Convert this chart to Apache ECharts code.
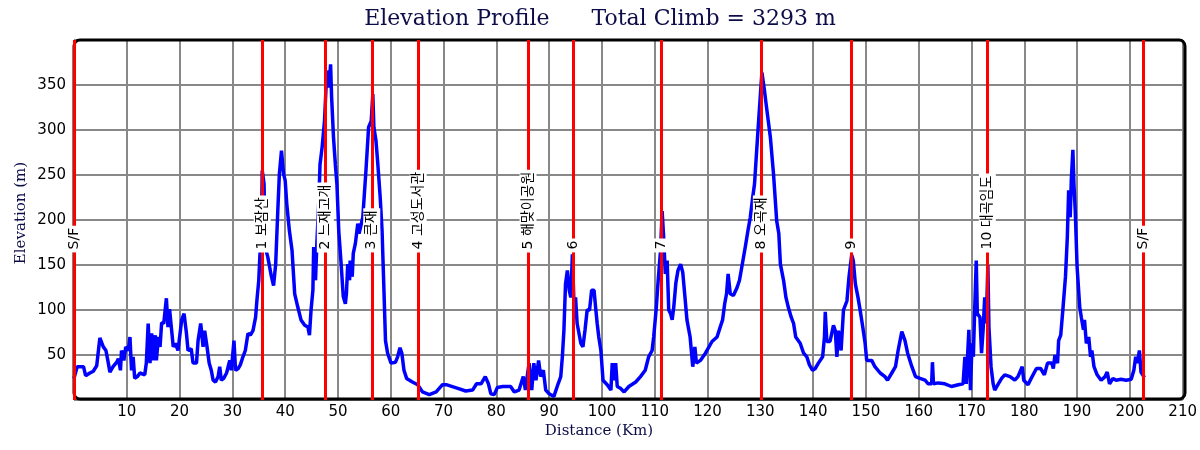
<!DOCTYPE html>
<html>
<head>
<meta charset="utf-8">
<title>Elevation Profile</title>
<script src="https://cdn.jsdelivr.net/npm/echarts@6/dist/echarts.min.js"></script>
<style>
  html, body { margin: 0; padding: 0; background: #fff; }
  #chart { width: 1200px; height: 450px; }
</style>
</head>
<body>
<div id="chart"></div>
<script>
// route profile: distance (km) / elevation (m)
const distKm = [
  0, 0.2, 0.6, 1.8, 2.2, 3.0, 3.65, 4.3, 4.9, 5.55, 6.05, 6.5, 6.8, 7.4, 8.1, 8.4, 8.8, 9.0, 9.45, 9.8,
  10.3, 10.6, 10.9, 11.2, 11.5, 12.0, 12.5, 13.4, 13.7, 14.05, 14.4, 14.7, 15.1, 15.4, 15.6, 16.0, 16.3, 16.6, 17.0, 17.5,
  17.8, 18.1, 18.5, 18.8, 19.2, 19.7, 20.4, 20.85, 21.3, 21.6, 22.2, 22.55, 23.2, 23.5, 24.0, 24.45, 24.75, 25.2, 25.6, 26.0,
  26.35, 26.8, 27.3, 27.6, 27.9, 28.35, 28.9, 29.2, 29.5, 29.8, 30.3, 30.6, 31.1, 31.5, 32.0, 32.45, 32.95, 33.4, 33.9, 34.4,
  34.65, 35.0, 35.2, 35.5, 35.65, 36.0, 36.2, 36.7, 37.4, 37.8, 38.2, 38.6, 38.9, 39.3, 39.7, 40.0, 40.3, 40.8, 41.3, 41.8,
  42.4, 43.0, 43.7, 44.3, 44.6, 44.9, 45.25, 45.4, 45.75, 46.0, 46.4, 46.6, 47.0, 47.45, 47.8, 48.1, 48.3, 48.6, 48.8, 49.15,
  49.5, 49.8, 50.15, 50.6, 51.0, 51.4, 51.6, 51.85, 52.2, 52.3, 52.7, 52.9, 53.3, 53.75, 54.0, 54.7, 55.3, 55.8, 56.3, 56.6,
  56.8, 57.2, 57.5, 58.0, 58.35, 58.65, 59.0, 59.4, 60.05, 60.9, 61.3, 61.75, 62.1, 62.5, 63.0, 64.1, 65.1, 66.0, 67.3, 68.6,
  69.8, 70.5, 72.7, 74.2, 75.5, 76.25, 77.1, 77.9, 78.5, 78.95, 79.6, 80.2, 81.2, 82.7, 83.4, 84.3, 85.1, 85.5, 86.2, 86.7,
  87.1, 87.5, 88.0, 88.4, 88.9, 89.35, 90.0, 90.9, 91.7, 92.2, 92.5, 92.8, 93.1, 93.45, 93.8, 94.1, 94.4, 94.7, 95.0, 95.3,
  96.0, 96.4, 96.8, 97.2, 97.65, 98.05, 98.5, 98.8, 99.1, 99.4, 99.8, 100.2, 101.0, 101.7, 101.95, 102.3, 102.6, 102.9, 103.5, 104.2,
  105.1, 106.4, 107.3, 108.2, 108.85, 109.5, 109.8, 110.3, 110.65, 111.1, 111.4, 111.7, 112.0, 112.35, 112.65, 113.0, 113.3, 113.6, 114.0, 114.4,
  114.9, 115.3, 115.7, 116.1, 116.7, 117.2, 117.6, 117.9, 118.65, 119.6, 120.85, 121.8, 122.4, 122.85, 123.25, 123.6, 123.9, 124.3, 124.9, 125.6,
  126.05, 126.5, 127.15, 127.65, 128.1, 128.55, 128.9, 129.35, 129.8, 130.3, 130.8, 131.05, 131.4, 131.9, 132.5, 133.1, 133.5, 133.8, 134.4, 134.85,
  135.3, 135.85, 136.3, 136.7, 137.55, 138.2, 138.8, 139.3, 139.9, 140.4, 141.0, 141.8, 142.15, 142.3, 142.6, 143.2, 143.85, 144.2, 144.5, 144.8,
  145.3, 145.75, 146.4, 146.8, 147.3, 147.6, 148.0, 148.5, 148.9, 149.4, 149.85, 150.15, 151.1, 151.7, 152.7, 153.6, 154.1, 154.9, 155.6, 156.1,
  156.8, 157.4, 157.9, 158.7, 159.4, 160.25, 161.2, 161.8, 162.45, 162.6, 162.8, 163.7, 164.95, 166.2, 167.5, 168.4, 168.75, 169.0, 169.5, 169.8,
  170.1, 170.35, 170.6, 170.9, 171.1, 171.6, 171.9, 172.2, 172.5, 172.8, 173.1, 173.3, 173.7, 174.1, 174.4, 175.0, 175.7, 176.3, 177.3, 178.2,
  178.8, 179.6, 179.9, 180.7, 181.3, 182.3, 183.1, 183.8, 184.4, 185.2, 185.5, 185.8, 186.3, 186.5, 186.9, 187.3, 187.8, 188.15, 188.4, 188.7,
  188.9, 189.2, 189.4, 189.65, 190.0, 190.5, 190.8, 191.2, 191.4, 191.75, 192.2, 192.55, 192.8, 193.2, 193.8, 194.55, 195.3, 195.7, 196.15, 196.8,
  197.4, 198.3, 199.3, 200.25, 200.75, 201.1, 201.4, 201.8, 202.1, 202.75
];
const elevM = [
  24, 26, 37, 37, 27, 30, 32, 38, 69, 59, 55, 41, 31, 37, 42, 46, 33, 55, 44, 59,
  55, 70, 33, 48, 24, 26, 30, 28, 41, 85, 41, 74, 44, 72, 44, 70, 59, 86, 85, 113,
  81, 101, 77, 59, 63, 55, 89, 96, 74, 55, 57, 41, 41, 66, 85, 59, 77, 59, 41, 33,
  22, 20, 26, 37, 22, 24, 30, 37, 44, 33, 66, 33, 35, 39, 48, 55, 74, 72, 77, 92,
  111, 133, 159, 188, 255, 240, 170, 159, 137, 127, 151, 210, 251, 277, 251, 244, 218, 188, 166, 118,
  103, 89, 83, 81, 72, 100, 122, 170, 133, 174, 225, 262, 281, 310, 355, 366, 347, 373, 336, 292,
  262, 240, 188, 151, 115, 107, 118, 151, 133, 155, 137, 163, 174, 196, 185, 203, 255, 303, 310, 340,
  303, 288, 266, 225, 188, 133, 66, 52, 41, 42, 48, 58, 52, 33, 24, 20, 17, 9, 6, 9,
  17, 17, 13, 10, 11, 18, 18, 26, 18, 7, 6, 14, 15, 15, 9, 11, 26, 11, 41, 11,
  41, 22, 44, 26, 33, 11, 7, 4, 18, 26, 48, 78, 129, 144, 122, 114, 162, 107, 114, 85,
  63, 59, 78, 100, 100, 122, 122, 103, 85, 70, 55, 22, 17, 11, 41, 22, 41, 15, 13, 9,
  15, 20, 26, 33, 48, 55, 70, 103, 133, 166, 210, 180, 140, 155, 100, 96, 89, 103, 130, 144,
  151, 142, 116, 89, 70, 37, 59, 41, 44, 52, 65, 70, 81, 89, 107, 118, 140, 118, 116, 125,
  133, 148, 170, 188, 203, 225, 240, 281, 321, 364, 343, 331, 329, 292, 251, 199, 185, 151, 133, 114,
  103, 92, 85, 70, 63, 52, 48, 39, 33, 35, 41, 48, 70, 98, 65, 65, 83, 77, 48, 77,
  55, 100, 110, 137, 161, 155, 129, 114, 100, 81, 63, 44, 44, 37, 30, 26, 22, 30, 37, 55,
  76, 66, 52, 37, 26, 24, 22, 18, 18, 42, 18, 19, 18, 15, 17, 18, 48, 18, 78, 11,
  63, 48, 100, 155, 96, 92, 52, 78, 114, 85, 150, 81, 37, 18, 11, 17, 24, 28, 26, 22,
  26, 37, 22, 17, 24, 35, 35, 28, 41, 41, 35, 50, 41, 66, 72, 100, 137, 181, 233, 203,
  244, 278, 240, 210, 148, 103, 92, 78, 89, 63, 70, 48, 55, 37, 28, 22, 26, 31, 18, 24,
  22, 23, 22, 23, 33, 48, 41, 55, 31, 25
];

// checkpoints along the route
const cpKm = [0, 35.65, 47.6, 56.4, 65.2, 86.0, 94.6, 111.3, 130.2, 147.2, 173.0, 202.6];
const cpNames = ['S/F', '1 보잠산', '2 느재고개', '3 큰재', '4 고성도서관', '5 해맞이공원',
  '6', '7', '8 오곡재', '9', '10 대곡임도', 'S/F'];

const totalClimb = 3293;

// axis ranges
const xMin = 0, xMax = 210, xStep = 10;
const yMin = 0, yMax = 400, yStep = 50;

const profile = distKm.map((d, i) => [d, elevM[i]]);
const labelBase = 164; // elevation where the checkpoint captions start

let chartDom = document.getElementById('chart');
let myChart = echarts.init(chartDom, null, { renderer: 'canvas' });

let option = {
  animation: false,
  backgroundColor: '#ffffff',
  title: {
    text: 'Elevation Profile      Total Climb = ' + totalClimb + ' m',
    left: 'center',
    top: 3,
    textStyle: {
      fontFamily: 'DejaVu Serif',
      fontSize: 22,
      fontWeight: 'normal',
      color: '#0c0c48'
    }
  },
  grid: {
    left: 74,
    top: 40,
    width: 1111,
    height: 360
  },
  xAxis: {
    type: 'value',
    min: xMin,
    max: xMax,
    interval: xStep,
    axisLine: { show: false },
    axisTick: { show: false },
    axisLabel: {
      margin: 5,
      color: '#000',
      fontFamily: 'DejaVu Sans',
      fontSize: 15,
      showMinLabel: false,
      showMaxLabel: true
    },
    splitLine: { lineStyle: { color: '#888', width: 2 } }
  },
  yAxis: {
    type: 'value',
    min: yMin,
    max: yMax,
    interval: yStep,
    axisLine: { show: false },
    axisTick: { show: false },
    axisLabel: {
      margin: 8,
      color: '#000',
      fontFamily: 'DejaVu Sans',
      fontSize: 15,
      showMinLabel: false,
      showMaxLabel: false
    },
    splitLine: { lineStyle: { color: '#888', width: 2 } }
  },
  graphic: [
    {
      type: 'rect',
      z: 1,
      shape: { x: 74, y: 40, width: 1111, height: 359, r: 6 },
      style: { fill: 'none', stroke: '#000', lineWidth: 3 }
    },
    {
      type: 'text',
      x: 21,
      y: 213,
      rotation: Math.PI / 2,
      style: {
        text: 'Elevation (m)',
        fill: '#0c0c48',
        font: '15px "DejaVu Serif"',
        align: 'center',
        verticalAlign: 'middle'
      }
    },
    {
      type: 'text',
      x: 599,
      y: 431,
      style: {
        text: 'Distance (Km)',
        fill: '#0c0c48',
        font: '15px "DejaVu Serif"',
        align: 'center',
        verticalAlign: 'middle'
      }
    }
  ],
  series: [
    {
      type: 'line',
      data: profile,
      showSymbol: false,
      symbol: 'none',
      z: 3,
      lineStyle: { color: '#0000ff', width: 3.5 },
      markLine: {
        silent: true,
        symbol: ['none', 'none'],
        label: { show: false },
        lineStyle: { color: '#ff0000', width: 3, type: 'solid', opacity: 1 },
        data: cpKm.map(k => ({ xAxis: k }))
      }
    },
    {
      type: 'scatter',
      symbolSize: 1,
      z: 5,
      silent: true,
      itemStyle: { opacity: 1, color: 'rgba(0,0,0,0)' },
      data: cpKm.map((k, i) => ({ value: [k, labelBase], name: cpNames[i] })),
      label: {
        show: true,
        position: 'inside',
        rotate: 90,
        align: 'left',
        verticalAlign: 'middle',
        formatter: p => p.name,
        color: '#000',
        opacity: 1,
        fontFamily: 'DejaVu Sans, "Noto Sans CJK KR"',
        fontSize: 14,
        backgroundColor: '#ffffff',
        padding: [2, 2, 1, 3]
      }
    }
  ]
};

myChart.setOption(option);
</script>
</body>
</html>
